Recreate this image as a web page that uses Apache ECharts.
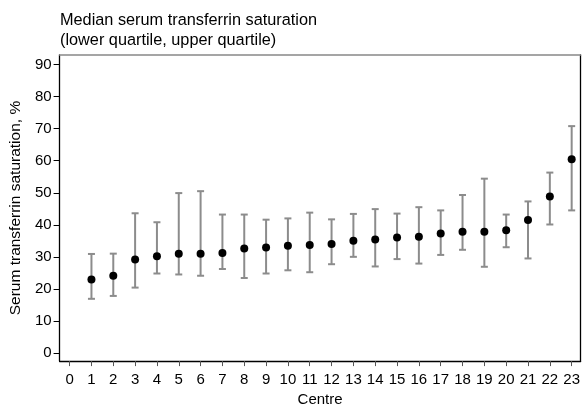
<!DOCTYPE html>
<html>
<head>
<meta charset="utf-8">
<script src="https://cdn.jsdelivr.net/npm/echarts@6/dist/echarts.min.js"></script>
<style>
html,body{margin:0;padding:0;background:#fff;}
#chart{width:583px;height:412px;}
</style>
</head>
<body>
<div id="chart"></div>
<script>
const centres = [1,2,3,4,5,6,7,8,9,10,11,12,13,14,15,16,17,18,19,20,21,22,23];
const medians = [22.9,24.1,29.2,30.2,31.0,31.0,31.2,32.6,32.9,33.5,33.7,34.0,35.0,35.4,36.0,36.3,37.3,37.8,37.8,38.3,41.5,48.8,60.5];
const lowerQ = [16.9,17.8,20.4,24.8,24.5,24.1,26.2,23.4,24.8,25.8,25.2,27.7,30.0,27.0,29.3,27.9,30.6,32.2,26.9,33.0,29.5,40.1,44.5];
const upperQ = [30.9,31.0,43.6,40.8,49.9,50.5,43.2,43.2,41.6,42.0,43.8,41.7,43.4,44.9,43.5,45.5,44.5,49.3,54.4,43.2,47.3,56.3,70.8];
const xTicks = [0,1,2,3,4,5,6,7,8,9,10,11,12,13,14,15,16,17,18,19,20,21,22,23];
const yTicks = [0,10,20,30,40,50,60,70,80,90];
const titleText = 'Median serum transferrin saturation\n(lower quartile, upper quartile)';
const xName = 'Centre';
const yName = 'Serum transferrin saturation, %';

const FONT = '"Liberation Sans", Arial, Helvetica, sans-serif';
const chart = echarts.init(document.getElementById('chart'), null, {renderer: 'canvas'});

const barData = centres.map((c, i) => [c, lowerQ[i], upperQ[i]]);
const pointData = centres.map((c, i) => [c, medians[i]]);

const option = {
  animation: false,
  backgroundColor: '#fff',
  title: {
    text: titleText,
    left: 60,
    top: 11,
    padding: 0,
    textStyle: {fontFamily: FONT, fontSize: 16.3, fontWeight: 'normal', color: '#000', lineHeight: 19.5}
  },
  grid: {left: 59, right: 2, top: 55, bottom: 37.5, containLabel: false},
  xAxis: [{
    type: 'value',
    min: -0.46,
    max: 23.41,
    name: xName,
    nameLocation: 'middle',
    nameGap: 25,
    nameTextStyle: {fontFamily: FONT, fontSize: 15, color: '#000'},
    axisLine: {show: true, onZero: false, lineStyle: {color: '#000', width: 1.3}},
    axisTick: {show: true, length: 5, lineStyle: {color: '#555'}, customValues: xTicks},
    axisLabel: {fontFamily: FONT, fontSize: 15, color: '#000', margin: 11, customValues: xTicks},
    splitLine: {show: false}
  }, {
    type: 'value',
    position: 'top',
    min: -0.46,
    max: 23.41,
    axisLine: {show: true, onZero: false, lineStyle: {color: '#888', width: 1.5}},
    axisTick: {show: false},
    axisLabel: {show: false},
    splitLine: {show: false}
  }],
  yAxis: [{
    type: 'value',
    min: -2.54,
    max: 93.0,
    name: yName,
    nameLocation: 'middle',
    nameGap: 31,
    nameTextStyle: {fontFamily: FONT, fontSize: 15.5, color: '#000'},
    axisLine: {show: true, onZero: false, lineStyle: {color: '#000', width: 1.3}},
    axisTick: {show: true, length: 6, lineStyle: {color: '#000'}, customValues: yTicks},
    axisLabel: {fontFamily: FONT, fontSize: 15, color: '#000', margin: 8, customValues: yTicks},
    splitLine: {show: false}
  }, {
    type: 'value',
    position: 'right',
    min: -2.54,
    max: 93.0,
    axisLine: {show: true, onZero: false, lineStyle: {color: '#000', width: 1.3}},
    axisTick: {show: false},
    axisLabel: {show: false},
    splitLine: {show: false}
  }],
  series: [{
    type: 'custom',
    xAxisIndex: 0,
    yAxisIndex: 0,
    data: barData,
    renderItem: function (params, api) {
      const x = api.value(0);
      const lo = api.coord([x, api.value(1)]);
      const hi = api.coord([x, api.value(2)]);
      const hw = 3.5;
      const style = {stroke: '#8c8c8c', lineWidth: 2};
      return {
        type: 'group',
        children: [
          {type: 'line', shape: {x1: lo[0], y1: lo[1], x2: hi[0], y2: hi[1]}, style: style},
          {type: 'line', shape: {x1: lo[0] - hw, y1: lo[1], x2: lo[0] + hw, y2: lo[1]}, style: style},
          {type: 'line', shape: {x1: hi[0] - hw, y1: hi[1], x2: hi[0] + hw, y2: hi[1]}, style: style}
        ]
      };
    },
    z: 2
  }, {
    type: 'scatter',
    xAxisIndex: 0,
    yAxisIndex: 0,
    data: pointData,
    symbol: 'circle',
    symbolSize: 8,
    itemStyle: {color: '#000', opacity: 1},
    z: 3
  }]
};
chart.setOption(option);
</script>
</body>
</html>
